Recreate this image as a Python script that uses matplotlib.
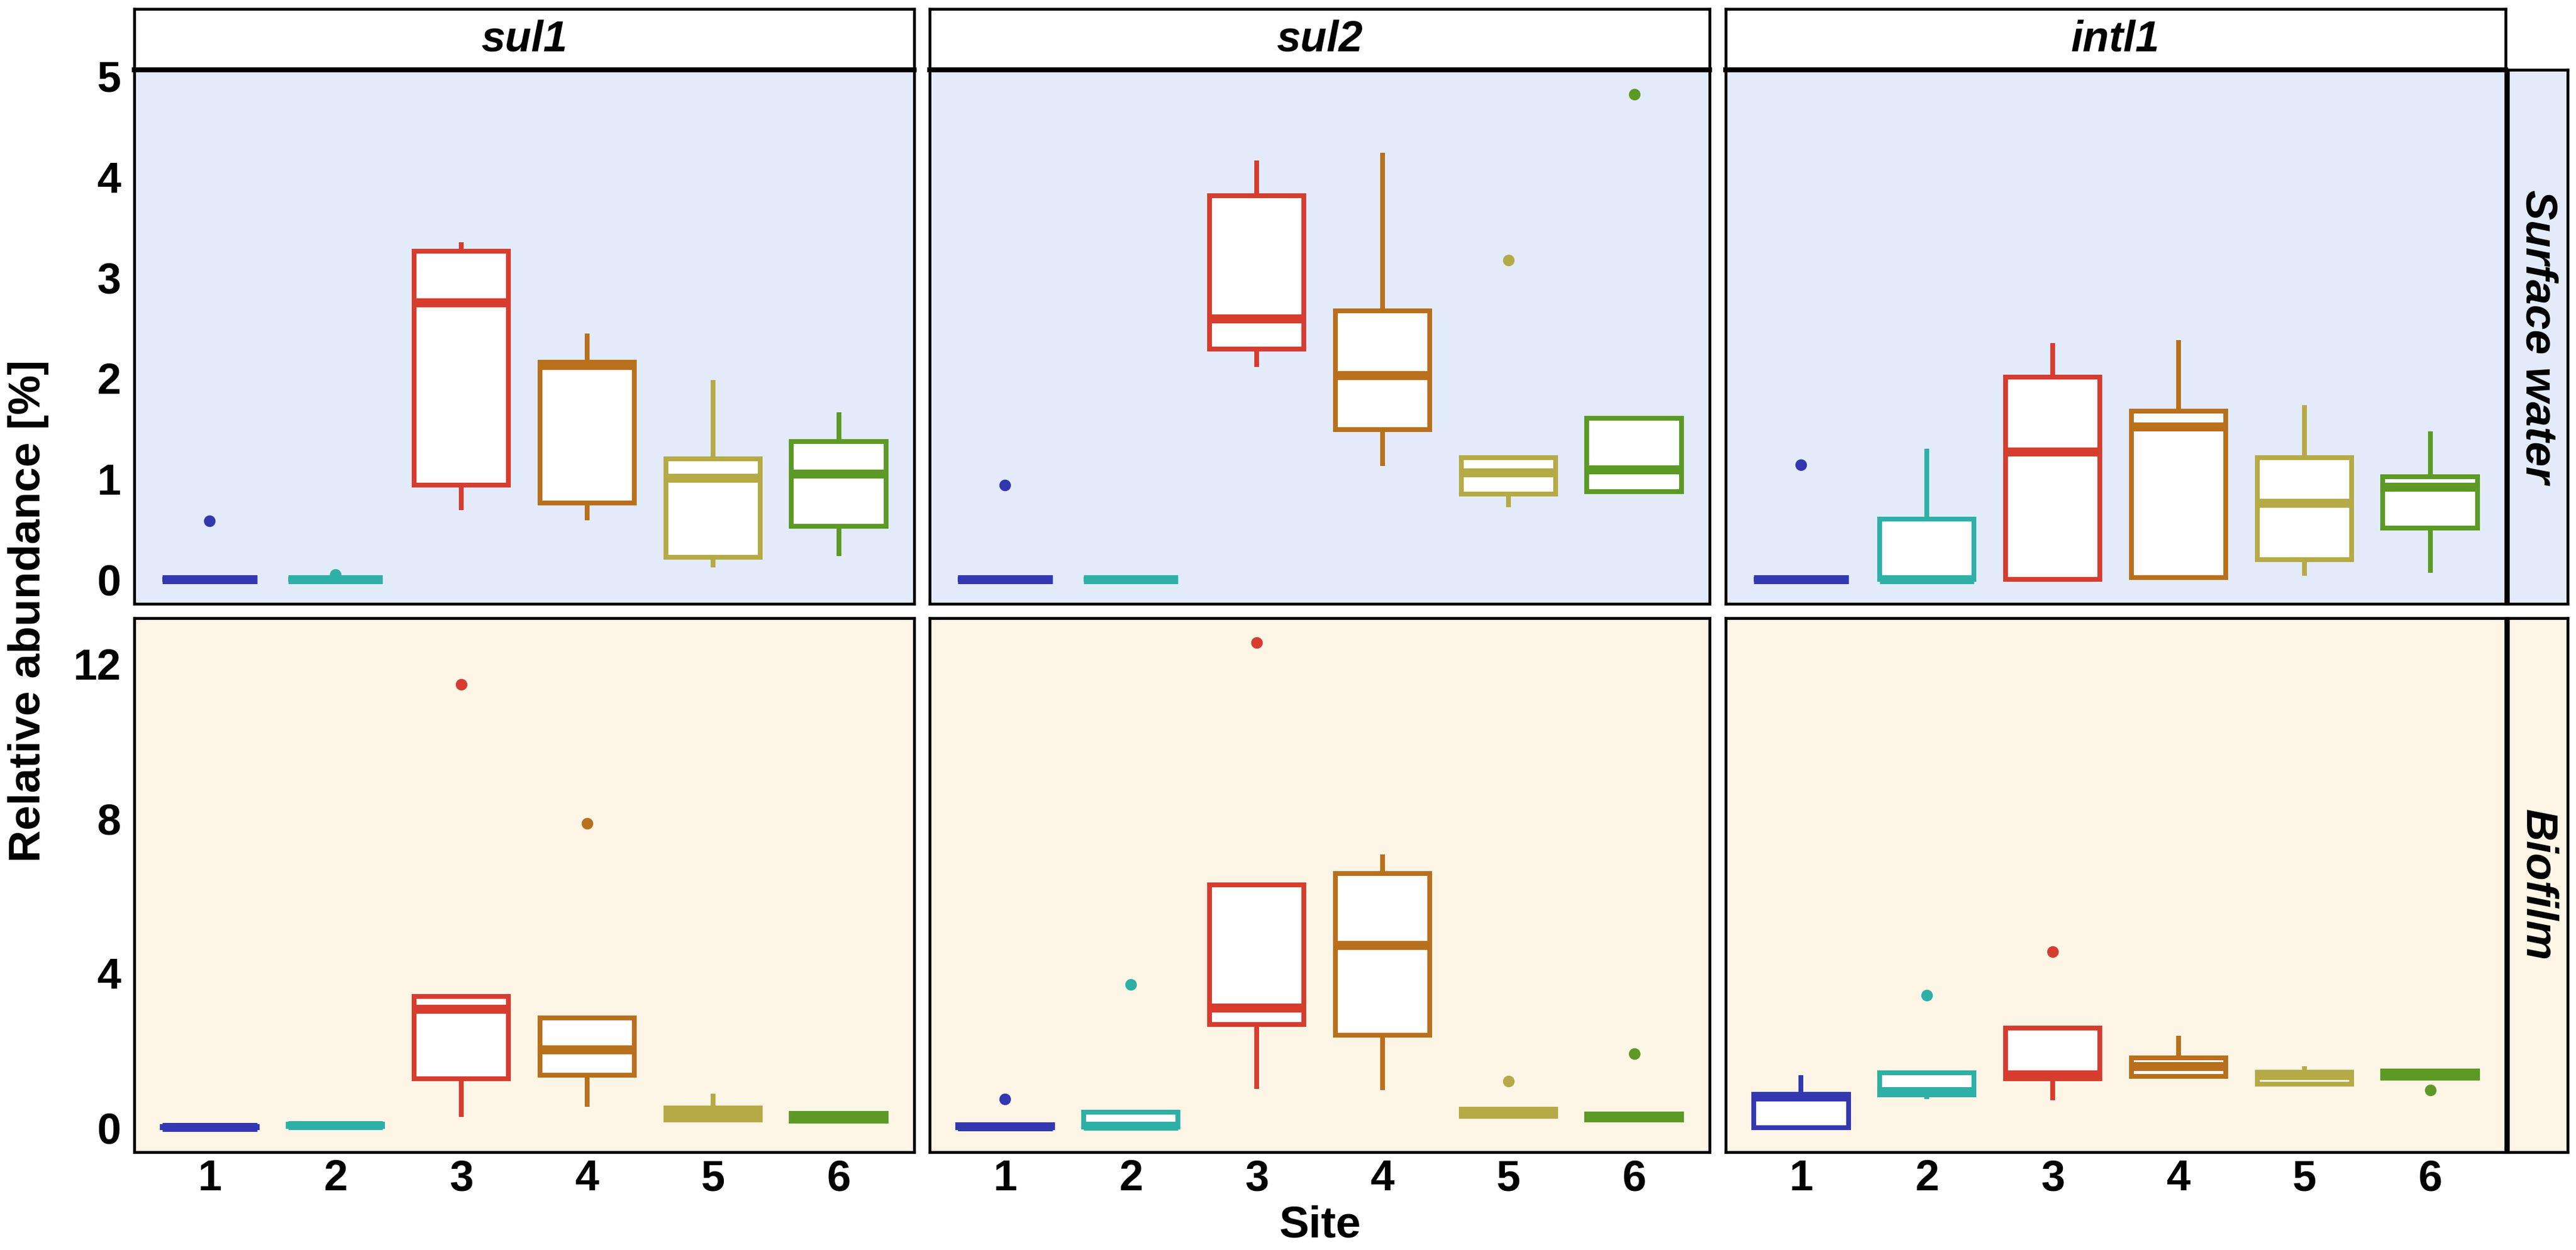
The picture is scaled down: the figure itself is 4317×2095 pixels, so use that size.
import matplotlib
matplotlib.use("Agg")
import matplotlib.pyplot as plt
import numpy as np

plt.rcParams['font.family'] = ['Liberation Sans', 'DejaVu Sans']
plt.rcParams['font.weight'] = 'bold'

# categories
sites = [1, 2, 3, 4, 5, 6]
genes = ["sul1", "sul2", "intl1"]
habitats = ["Surface water", "Biofilm"]
site_colors = ["#3338b0", "#2fb0a6", "#d63d2f", "#b8701d", "#b5aa46", "#5c9a25"]
bg_colors = ["#e3ebfb", "#fdf5e5"]

# box stats per site: [whislo, q1, median, q3, whishi]
sw_sul1 = [[0, 0, 0, 0, 0], [0, 0, 0, 0, 0], [0.69, 0.94, 2.75, 3.26, 3.35],
           [0.59, 0.76, 2.13, 2.16, 2.44], [0.12, 0.22, 1.01, 1.20, 1.98],
           [0.23, 0.53, 1.05, 1.37, 1.66]]
sw_sul1_out = [[0.58], [0.05], [], [], [], []]

sw_sul2 = [[0, 0, 0, 0, 0], [0, 0, 0, 0, 0], [2.11, 2.29, 2.59, 3.81, 4.16],
           [1.13, 1.49, 2.03, 2.67, 4.24], [0.72, 0.85, 1.06, 1.21, 1.21],
           [0.87, 0.87, 1.09, 1.60, 1.60]]
sw_sul2_out = [[0.94], [], [], [], [3.17], [4.82]]

sw_intl1 = [[0, 0, 0, 0, 0], [0, 0, 0, 0.60, 1.30], [0, 0, 1.27, 2.01, 2.35],
            [0.02, 0.02, 1.52, 1.67, 2.38], [0.04, 0.20, 0.76, 1.21, 1.73],
            [0.07, 0.51, 0.92, 1.02, 1.47]]
sw_intl1_out = [[1.14], [], [], [], [], []]

bf_sul1 = [[0, 0, 0.02, 0.03, 0.03], [0.03, 0.04, 0.07, 0.10, 0.12],
           [0.28, 1.27, 3.08, 3.40, 3.40], [0.54, 1.36, 2.02, 2.85, 2.85],
           [0.20, 0.20, 0.35, 0.51, 0.89], [0.18, 0.18, 0.28, 0.38, 0.38]]
bf_sul1_out = [[], [], [11.47], [7.87], [], []]

bf_sul2 = [[0, 0, 0.04, 0.08, 0.08], [0, 0.02, 0.05, 0.40, 0.40],
           [1.01, 2.67, 3.10, 6.29, 6.29], [0.97, 2.39, 4.72, 6.58, 7.07],
           [0.30, 0.30, 0.40, 0.48, 0.48], [0.20, 0.20, 0.28, 0.36, 0.36]]
bf_sul2_out = [[0.74], [3.70], [12.55], [], [1.21], [1.92]]

bf_intl1 = [[0, 0, 0.80, 0.87, 1.36], [0.74, 0.86, 0.95, 1.43, 1.43],
            [0.72, 1.27, 1.38, 2.58, 2.58], [1.33, 1.33, 1.60, 1.81, 2.38],
            [1.13, 1.13, 1.36, 1.44, 1.60], [1.29, 1.29, 1.38, 1.47, 1.52]]
bf_intl1_out = [[], [3.43], [4.56], [], [], [0.97]]

panels = [[(sw_sul1, sw_sul1_out), (sw_sul2, sw_sul2_out), (sw_intl1, sw_intl1_out)],
          [(bf_sul1, bf_sul1_out), (bf_sul2, bf_sul2_out), (bf_intl1, bf_intl1_out)]]
row_ticks = [[0, 1, 2, 3, 4, 5], [0, 4, 8, 12]]

# layout in pixels
W, H = 4317, 2095
fig = plt.figure(figsize=(W / 200, H / 200), dpi=200)
col_left = [225, 1558, 2892]
col_w = 1307
row_top = [117, 1036]
row_h = 895
strip_h = 102
rstrip_w = 100
lw_box = 2.9
lw_med = 5.4
lw_border = 1.7


def fig_rect(x0, y0, w, h):
    return [x0 / W, 1 - (y0 + h) / H, w / W, h / H]


for r in range(2):
    vals = []
    for stats, outs in panels[r]:
        for s, o in zip(stats, outs):
            vals += s + o
    lo, hi = min(vals), max(vals)
    pad = (hi - lo) * 0.05
    for c in range(3):
        ax = fig.add_axes(fig_rect(col_left[c], row_top[r], col_w, row_h))
        ax.set_facecolor(bg_colors[r])
        stats, outs = panels[r][c]
        for i, site in enumerate(sites):
            s = stats[i]
            col = site_colors[i]
            st = dict(whislo=s[0], q1=s[1], med=s[2], q3=s[3], whishi=s[4], fliers=outs[i])
            ax.bxp([st], positions=[site], widths=0.75, patch_artist=True,
                   showcaps=False, manage_ticks=False,
                   boxprops=dict(facecolor='white', edgecolor=col, linewidth=lw_box),
                   medianprops=dict(color=col, linewidth=lw_med, solid_capstyle='butt'),
                   whiskerprops=dict(color=col, linewidth=lw_box, solid_capstyle='butt'),
                   flierprops=dict(marker='o', markerfacecolor=col, markeredgecolor=col,
                                   markersize=6))
        ax.set_xlim(0.4, 6.6)
        ax.set_ylim(lo - pad, hi + pad)
        ax.set_xticks(sites)
        ax.set_yticks(row_ticks[r])
        ax.tick_params(length=0, labelsize=26)
        ax.tick_params(axis='y', pad=8)
        ax.tick_params(axis='x', pad=4)
        if c != 0:
            ax.set_yticklabels([])
        if r != 1:
            ax.set_xticklabels([])
        for sp in ax.spines.values():
            sp.set_linewidth(lw_border)
            sp.set_color('black')

        if r == 0:
            sax = fig.add_axes(fig_rect(col_left[c], row_top[0] - strip_h, col_w, strip_h))
            sax.set_facecolor('white')
            sax.set_xticks([])
            sax.set_yticks([])
            for sp in sax.spines.values():
                sp.set_linewidth(lw_border)
            sax.spines['bottom'].set_linewidth(3.0)
            sax.text(0.5, 0.5, genes[c], ha='center', va='center', fontsize=26,
                     fontstyle='italic', fontweight='bold', transform=sax.transAxes)

    rax = fig.add_axes(fig_rect(col_left[2] + col_w + 4, row_top[r], rstrip_w, row_h))
    rax.set_facecolor(bg_colors[r])
    rax.set_xticks([])
    rax.set_yticks([])
    for sp in rax.spines.values():
        sp.set_linewidth(lw_border)
    rax.text(0.5, 0.5, habitats[r], ha='center', va='center', rotation=-90, fontsize=27,
             fontstyle='italic', fontweight='bold', transform=rax.transAxes)

fig.text(48 / W, 1 - 1024 / H, "Relative abundance [%]", rotation=90, ha='center',
         va='center', fontsize=27, fontweight='bold')
fig.text(2212 / W, 1 - 2054 / H, "Site", ha='center', va='center', fontsize=27,
         fontweight='bold')

fig.savefig("out.png", dpi=200, facecolor='white')
